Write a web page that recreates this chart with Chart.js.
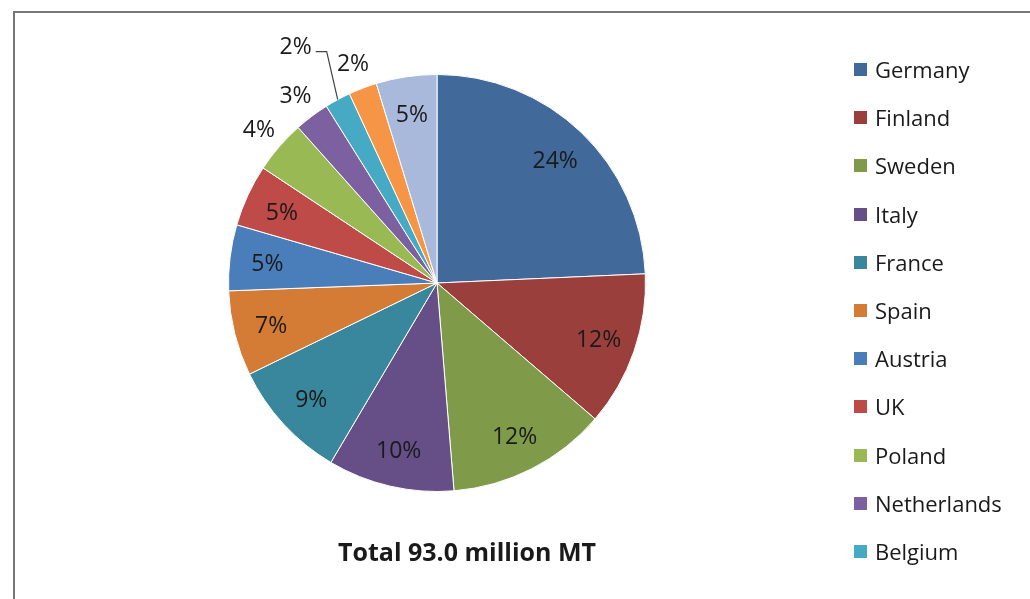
<!DOCTYPE html>
<html>
<head>
<meta charset="utf-8">
<script src="https://cdn.jsdelivr.net/npm/chart.js@4.4.0/dist/chart.umd.min.js"></script>
<style>
  html, body { margin: 0; padding: 0; background: #fff; }
  body { width: 1030px; height: 599px; position: relative; overflow: hidden; font-family: "Open Sans", sans-serif; color: #1a1a1a; }
  #frame { position: absolute; left: 13px; top: 11px; width: 1100px; height: 700px; border: 2px solid #777; box-sizing: border-box; }
  #chart { position: absolute; left: 0; top: 0; }
  #legend { position: absolute; left: 854px; top: 0; }
  .item { position: absolute; left: 0; height: 30px; line-height: 30px; white-space: nowrap; font-size: 22px; }
  .box { position: absolute; left: 0; top: 9px; width: 13px; height: 13px; }
  .lbl { position: absolute; left: 21px; top: 0; }
  #title { position: absolute; left: 267px; width: 400px; top: 534px; text-align: center; font-size: 25px; font-weight: bold; }
</style>
</head>
<body>
<div id="frame"></div>
<canvas id="chart" width="1030" height="599"></canvas>
<div id="legend"></div>
<div id="title">Total 93.0 million MT</div>
<script>
// share of total, percent
const countries = ["Germany", "Finland", "Sweden", "Italy", "France", "Spain", "Austria",
                   "UK", "Poland", "Netherlands", "Belgium", "Portugal", "Other"];
const shares = [24.3, 12.0, 12.4, 9.8, 9.3, 6.6, 5.1, 4.8, 4.1, 2.7, 2.0, 2.2, 4.7];
const colors = ["#41699A", "#9B3F3C", "#7F9A48", "#664E87", "#39879C", "#D47B35", "#4A7EBB",
                "#BE4B48", "#98B954", "#7D60A0", "#46AAC5", "#F69545", "#A8B9DB"];
// where the % label goes: inside, outside, or outside with a leader line
const labelPlace = ["in", "in", "in", "in", "in", "in", "in", "in", "out", "out", "leader", "out", "in"];

// legend (the original only shows the first 11, the rest is cut off by the frame)
const legend = document.getElementById('legend');
countries.slice(0, 11).forEach((name, i) => {
    const it = document.createElement('div');
    it.className = 'item';
    it.style.top = (69 + i * 48.2 - 15) + 'px';
    it.innerHTML = '<span class="box" style="background:' + colors[i] + '"></span><span class="lbl">' + name + '</span>';
    legend.appendChild(it);
});

const total = shares.reduce((a, b) => a + b, 0);

const pctLabels = {
    id: 'pctLabels',
    afterDatasetsDraw(chart) {
        const ctx = chart.ctx;
        const meta = chart.getDatasetMeta(0);
        ctx.save();
        ctx.font = '23px "Open Sans"';
        ctx.fillStyle = '#1a1a1a';
        ctx.textAlign = 'center';
        ctx.textBaseline = 'middle';
        meta.data.forEach((arc, i) => {
            const p = arc.getProps(['x', 'y', 'startAngle', 'endAngle', 'outerRadius'], true);
            const mid = (p.startAngle + p.endAngle) / 2;
            const text = Math.round(shares[i] / total * 100) + '%';
            if (labelPlace[i] === 'leader') {
                const ax = p.x + Math.cos(mid) * p.outerRadius;
                const ay = p.y + Math.sin(mid) * p.outerRadius;
                const ex = ax - 11, ey = ay - 48;
                ctx.strokeStyle = '#444';
                ctx.lineWidth = 1.2;
                ctx.beginPath();
                ctx.moveTo(ax, ay);
                ctx.lineTo(ex, ey);
                ctx.lineTo(ex - 11, ey);
                ctx.stroke();
                ctx.fillText(text, ex - 31, ey - 4);
            } else {
                const f = labelPlace[i] === 'out' ? 1.13 : 0.82;
                ctx.fillText(text, p.x + Math.cos(mid) * p.outerRadius * f, p.y + Math.sin(mid) * p.outerRadius * f + 2);
            }
        });
        ctx.restore();
    }
};

new Chart(document.getElementById('chart').getContext('2d'), {
    type: 'pie',
    data: {
        labels: countries,
        datasets: [{
            data: shares,
            backgroundColor: colors,
            borderColor: '#ffffff',
            borderWidth: 1
        }]
    },
    options: {
        responsive: false,
        animation: false,
        devicePixelRatio: 1,
        events: [],
        layout: { padding: { left: 228, right: 384, top: 74, bottom: 107 } },
        plugins: {
            legend: { display: false },
            title: { display: false },
            tooltip: { enabled: false }
        }
    },
    plugins: [pctLabels]
});
</script>
</body>
</html>
